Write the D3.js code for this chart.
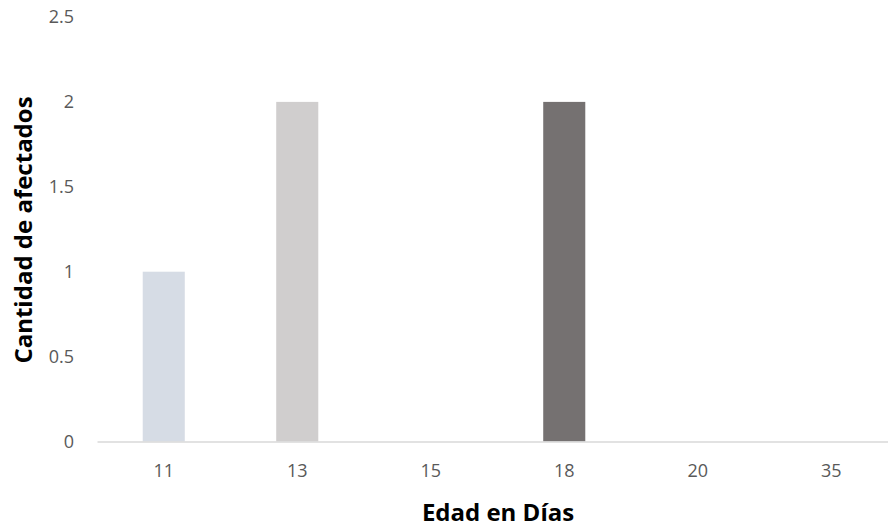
<!DOCTYPE html>
<html>
<head>
<meta charset="utf-8">
<script src="https://cdn.jsdelivr.net/npm/d3@7"></script>
<style>
  html, body { margin: 0; padding: 0; background: #fff; }
  svg { display: block; font-family: "Open Sans", "Noto Sans", sans-serif; }
</style>
</head>
<body>
<svg id="chart" width="888" height="527"></svg>
<script>
// Edad (días) y número de afectados
const categories = ["11", "13", "15", "18", "20", "35"];
const values = [1, 2, 0, 2, 0, 0];
const barColors = ["#d6dce5", "#d0cece", "#d0cece", "#757171", "#757171", "#757171"];
const yTicks = [0, 0.5, 1, 1.5, 2, 2.5];

const svg = d3.select("#chart");

const x = d3.scaleBand()
  .domain(categories)
  .range([97, 898])
  .paddingInner(0.685)
  .paddingOuter(0.3425);

const y = d3.scaleLinear()
  .domain([0, 2.5])
  .range([441.5, 17]);

// Barras
svg.append("g")
  .selectAll("rect")
  .data(categories)
  .join("rect")
  .attr("x", d => x(d))
  .attr("width", x.bandwidth())
  .attr("y", (d, i) => y(values[i]))
  .attr("height", (d, i) => y(0) - y(values[i]))
  .attr("fill", (d, i) => barColors[i]);

// Eje X
const xAxis = svg.append("g")
  .attr("transform", `translate(0,${y(0)})`)
  .call(d3.axisBottom(x).tickSize(0).tickPadding(23));
xAxis.select(".domain").attr("stroke", "#d9d9d9").attr("stroke-width", 1.5);
xAxis.selectAll("text")
  .attr("fill", "#595959")
  .style("font-size", "18px")
  .style("font-family", "Open Sans, sans-serif");

// Eje Y (solo etiquetas)
const yAxis = svg.append("g")
  .attr("transform", "translate(74,0)")
  .call(d3.axisLeft(y).tickValues(yTicks).tickFormat(d3.format("")).tickSize(0).tickPadding(0));
yAxis.select(".domain").remove();
yAxis.selectAll("text")
  .attr("fill", "#595959")
  .style("font-size", "18px")
  .style("font-family", "Open Sans, sans-serif");

// Títulos de ejes
svg.append("text")
  .attr("x", 498)
  .attr("y", 521)
  .attr("text-anchor", "middle")
  .attr("fill", "#000")
  .style("font-size", "24px")
  .style("font-weight", "bold")
  .text("Edad en Días");

svg.append("text")
  .attr("transform", "translate(32,230) rotate(-90)")
  .attr("text-anchor", "middle")
  .attr("fill", "#000")
  .style("font-size", "24px")
  .style("font-weight", "bold")
  .text("Cantidad de afectados");
</script>
</body>
</html>
